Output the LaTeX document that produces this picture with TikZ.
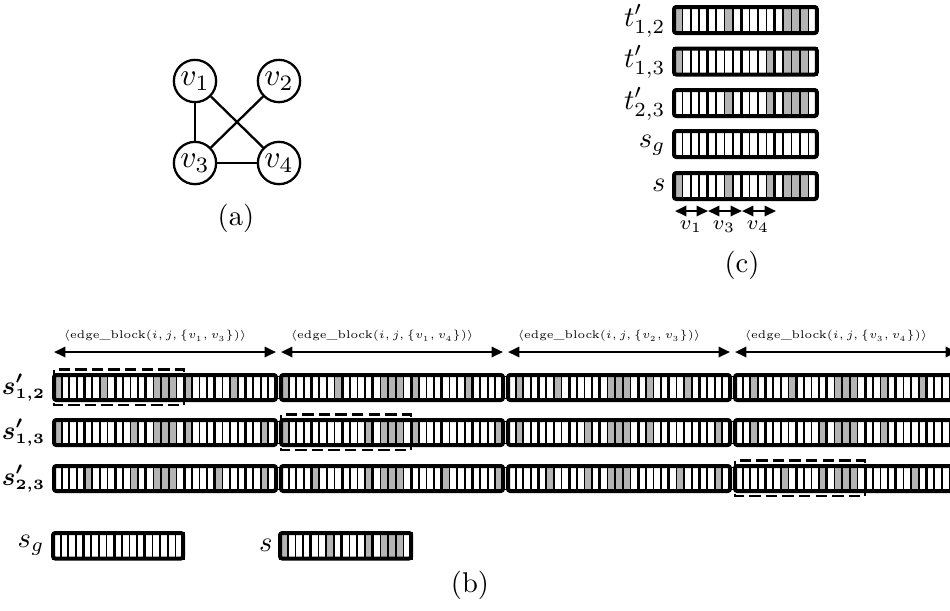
\RequirePackage{fix-cm}
\documentclass[tikz,border=0pt]{standalone}
\usepackage{amsmath,bm}
\usetikzlibrary{arrows.meta}
\definecolor{cellgray}{RGB}{180,180,180}
\tikzset{
 cellline/.style={line width=0.6pt},
 blockline/.style={line width=1pt},
 outerline/.style={line width=1.4pt, rounded corners=0.8pt},
 dbl/.style={line width=0.8pt, {Triangle[length=4pt,width=3.6pt]}-{Triangle[length=4pt,width=3.6pt]}},
 vnode/.style={circle, draw, line width=0.8pt, minimum size=14.8pt, inner sep=0pt, font=\fontsize{11}{13}\selectfont},
 edgeline/.style={line width=0.8pt},
 dashbox/.style={line width=0.9pt, dash pattern=on 4pt off 1.8pt},
 lbl/.style={anchor=east, inner sep=0pt},
 blbl/.style={anchor=east, inner sep=0pt, font=\fontsize{9}{11}\selectfont},
 eblbl/.style={font=\fontsize{3.9}{4.8}\selectfont, inner sep=0pt},
 smlbl/.style={font=\scriptsize, inner sep=0pt},
}
\def\PVa{1,0,0,0}
\def\PVb{0,1,0,0}
\def\PVc{0,0,1,0}
\def\PVd{0,0,0,1}
\def\PZ{0,0,0,0}
\def\PX{0,1,1,1,0}
\def\PXZ{0,0,0,0,0}
\def\BlkS{0/4,4/4,8/4,12/5}
\def\BlkE{0/4,4/4,8/4,12/5,17/4,21/4,25/4}
% x, y, cell width, height, cell list, block list, number of cells
\newcommand\drawstrip[7]{%
  \foreach \cv [count=\ci from 0] in #5 {%
    \ifnum\cv=1 \def\fc{cellgray}\else\def\fc{white}\fi
    \draw[cellline, fill=\fc] ({#1+\ci*#3}, #2) rectangle ++(#3, #4);
  }
  \foreach \bs/\bw in #6 {%
    \draw[blockline] ({#1+\bs*#3}, #2) rectangle ++({\bw*#3}, #4);
  }
  \draw[outerline] (#1, #2) rectangle ++({#7*#3}, #4);
}
\newcommand\ebrow[3]{%
  \ifcase#1\or
    \edef\ebl{#2,#3,\PZ,\PX,#2,#3,\PZ}\or
    \edef\ebl{#2,\PZ,#3,\PX,#2,\PZ,#3}\or
    \edef\ebl{\PZ,#2,#3,\PX,\PZ,#2,#3}\fi}
\begin{document}
\begin{tikzpicture}[x=0.35pt, y=-0.35pt]
\useasboundingbox (0,0) rectangle (950,610);

% ---------- (a) ----------
\node[vnode] (v1) at (195,81) {$v_1$};
\node[vnode] (v2) at (279,81) {$v_2$};
\node[vnode] (v3) at (195,163) {$v_3$};
\node[vnode] (v4) at (279,163) {$v_4$};
\draw[edgeline] (v1) -- (v3);
\draw[edgeline] (v1) -- (v4);
\draw[edgeline] (v2) -- (v3);
\draw[edgeline] (v3) -- (v4);
\node (la) at (236,218) {(a)};

% ---------- (c) ----------
\edef\Lt{\PVa,\PVc,\PZ,\PX}\drawstrip{674}{7}{8.4}{26}{\Lt}{\BlkS}{17}
\edef\Lt{\PVa,\PZ,\PVd,\PX}\drawstrip{674}{48.5}{8.4}{26}{\Lt}{\BlkS}{17}
\edef\Lt{\PZ,\PVc,\PVd,\PX}\drawstrip{674}{90}{8.4}{26}{\Lt}{\BlkS}{17}
\edef\Lt{\PZ,\PZ,\PZ,\PXZ}\drawstrip{674}{131}{8.4}{26}{\Lt}{\BlkS}{17}
\edef\Lt{\PVa,\PVc,\PVd,\PX}\drawstrip{674}{173}{8.4}{26}{\Lt}{\BlkS}{17}
\node[lbl] (ct12) at (666,21) {$t'_{1,2}$};
\node[lbl] (ct13) at (666,62) {$t'_{1,3}$};
\node[lbl] (ct23) at (666,104) {$t'_{2,3}$};
\node[lbl] (csg) at (666,145) {$s_g$};
\node[lbl] (cs) at (666,185) {$s$};
\coordinate (c1) at (675,211);
\coordinate (c2) at (708,211);
\coordinate (c3) at (742,211);
\coordinate (c4) at (776,211);
\draw[dbl] (c1) -- (c2);
\draw[dbl] (c2) -- (c3);
\draw[dbl] (c3) -- (c4);
\node[smlbl] (cv1) at (691,227) {$v_1$};
\node[smlbl] (cv3) at (724,227) {$v_3$};
\node[smlbl] (cv4) at (758,227) {$v_4$};
\node (lc) at (742,265) {(c)};

% ---------- (b) ----------
\draw[dashbox] (54,369.5) rectangle (184,405);
\draw[dashbox] (281,414.5) rectangle (411,450);
\draw[dashbox] (735,460.5) rectangle (865,496);
\foreach \rr/\ry in {1/375, 2/420, 3/466} {
  \draw[cellline] (54,\ry+1.5) -- (960,\ry+1.5);
  \draw[cellline] (54,\ry+23.5) -- (960,\ry+23.5);
  \foreach \uu/\vv/\kk in {\PVa/\PVc/0, \PVa/\PVd/1, \PVb/\PVc/2, \PVc/\PVd/3} {
    \ebrow{\rr}{\uu}{\vv}
    \drawstrip{54+227*\kk}{\ry}{7.655}{25}{\ebl}{\BlkE}{29}
  }
}
\node[blbl] (r12) at (46,387.5) {$\boldsymbol{s'_{\scriptscriptstyle 1,2}}$};
\node[blbl] (r13) at (46,432.5) {$\boldsymbol{s'_{\scriptscriptstyle 1,3}}$};
\node[blbl] (r23) at (46,478.5) {$\boldsymbol{s'_{\scriptscriptstyle 2,3}}$};

\foreach \kk/\ee in {0/{v_1,v_3}, 1/{v_1,v_4}, 2/{v_2,v_3}, 3/{v_3,v_4}} {
  \coordinate (al\kk) at (54+227*\kk,352);
  \coordinate (ar\kk) at (276+227*\kk,352);
  \draw[dbl] (al\kk) -- (ar\kk);
  \node[eblbl] (eb\kk) at (155+227*\kk,336) {$\langle\text{edge\_block}(i,j,\{\ee\})\rangle$};
}

\edef\Lt{\PZ,\PZ,\PZ,\PXZ}\drawstrip{53}{533}{7.655}{25.5}{\Lt}{\BlkS}{17}
\edef\Lt{\PVa,\PVc,\PVd,\PX}\drawstrip{280}{533}{7.72}{25.5}{\Lt}{\BlkS}{17}
\node[lbl] (bsg) at (45,545) {$s_g$};
\node[lbl] (bs) at (273,545) {$s$};
\node (lb) at (470,585) {(b)};
\end{tikzpicture}
\end{document}
